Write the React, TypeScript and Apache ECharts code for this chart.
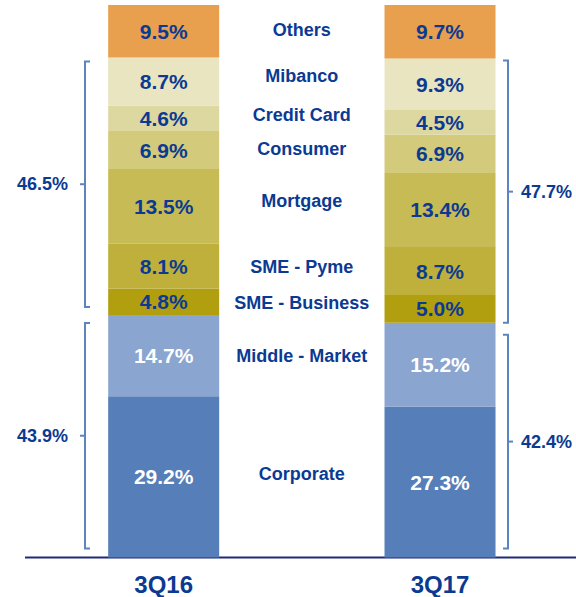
import React, { useEffect, useRef } from "react";
import * as echarts from "echarts";

const categories = ["3Q16", "", "3Q17"];
const segments = ["Corporate", "Middle - Market", "SME - Business", "SME - Pyme", "Mortgage", "Consumer", "Credit Card", "Mibanco", "Others"];
const values3Q16 = [29.2, 14.7, 4.8, 8.1, 13.5, 6.9, 4.6, 8.7, 9.5];
const values3Q17 = [27.3, 15.2, 5.0, 8.7, 13.4, 6.9, 4.5, 9.3, 9.7];
// bracket groups: wholesale = segments 0..1, retail = segments 2..7
const wholesaleTotals = [43.9, 42.4];
const retailTotals = [46.5, 47.7];

const colors = ["#567EB8", "#8AA5CF", "#B29F10", "#BEB03A", "#C7BB55", "#D3CA7B", "#DDD7A0", "#EAE5C1", "#E89F4E"];
const valueColors = ["#FFFFFF", "#FFFFFF", "#0B3A93", "#0B3A93", "#0B3A93", "#0B3A93", "#0B3A93", "#0B3A93", "#0B3A93"];
const nameShift = [-3, 0, 1, 1, -5, -1, -3, -6, -1];
const BLUE = "#0B3A93";
const BRACKET = "#5B84C0";
const FONT = "'Liberation Sans', Arial, sans-serif";

export default function App() {
  const ref = useRef<HTMLDivElement>(null);
  useEffect(() => {
    document.body.style.margin = "0";
    const chart = echarts.init(ref.current!, null, { renderer: "svg" });
    const series = segments.map((name, i) => ({
      name,
      type: "bar",
      stack: "total",
      barWidth: 111,
      itemStyle: { color: colors[i] },
      label: {
        show: true,
        position: "inside",
        fontSize: 21,
        fontWeight: "bold",
        fontFamily: FONT,
        color: valueColors[i],
        formatter: (p: any) => Number(p.value).toFixed(1) + "%",
      },
      data: [
        values3Q16[i],
        {
          value: values3Q16[i],
          itemStyle: { color: "rgba(0,0,0,0)" },
          label: { formatter: name, fontSize: 18, color: BLUE, offset: [0, nameShift[i]] },
        },
        values3Q17[i],
      ],
    }));
    chart.setOption({
      animation: false,
      grid: { left: 94.6, right: 66.9, top: 5, bottom: 39.5 },
      xAxis: {
        type: "category",
        data: categories,
        axisLine: { show: false },
        axisTick: { show: false },
        axisLabel: { fontSize: 24, fontWeight: "bold", fontFamily: FONT, color: BLUE, margin: 15 },
      },
      yAxis: { type: "value", min: 0, max: 100, show: false },
      series,
    });

    const px = (c: number, v: number) => chart.convertToPixel({ gridIndex: 0 }, [c, v]) as number[];
    const sum = (a: number[], s: number, e: number) => a.slice(s, e).reduce((x, y) => x + y, 0);
    const base = px(0, 0)[1];
    const graphic: any[] = [
      { type: "line", shape: { x1: 25, y1: base, x2: 576, y2: base }, style: { stroke: "#1F2A78", lineWidth: 2 } },
    ];
    const bracket = (x: number, top: number, bottom: number, dir: number, label: string) => {
      const mid = (top + bottom) / 2;
      graphic.push({
        type: "polyline",
        shape: { points: [[x + 5 * dir, top], [x, top], [x, bottom], [x + 5 * dir, bottom]] },
        style: { stroke: BRACKET, lineWidth: 2, fill: null },
      });
      graphic.push({ type: "line", shape: { x1: x, y1: mid, x2: x - 5 * dir, y2: mid }, style: { stroke: BRACKET, lineWidth: 2 } });
      graphic.push({
        type: "text",
        x: dir > 0 ? x - 17 : x + 13,
        y: mid,
        style: {
          text: label,
          fontSize: 18,
          fontWeight: "bold",
          fontFamily: FONT,
          fill: BLUE,
          align: dir > 0 ? "right" : "left",
          verticalAlign: "middle",
        },
      });
    };
    const vals = [values3Q16, values3Q17];
    [0, 1].forEach((k) => {
      const cat = k === 0 ? 0 : 2;
      const x = k === 0 ? 85 : 508;
      const dir = k === 0 ? 1 : -1;
      const v = vals[k];
      const wTop = px(cat, sum(v, 0, 2))[1];
      const rTop = px(cat, sum(v, 0, 8))[1];
      if (k === 0) {
        bracket(x, wTop + 8, base - 9, dir, wholesaleTotals[k].toFixed(1) + "%");
        bracket(x, rTop + 4, wTop - 8, dir, retailTotals[k].toFixed(1) + "%");
      } else {
        bracket(x, wTop + 12, base - 9, dir, wholesaleTotals[k].toFixed(1) + "%");
        bracket(x, rTop + 2, wTop, dir, retailTotals[k].toFixed(1) + "%");
      }
    });
    chart.setOption({ graphic });
    return () => chart.dispose();
  }, []);
  return <div ref={ref} style={{ width: 576, height: 597 }} />;
}
